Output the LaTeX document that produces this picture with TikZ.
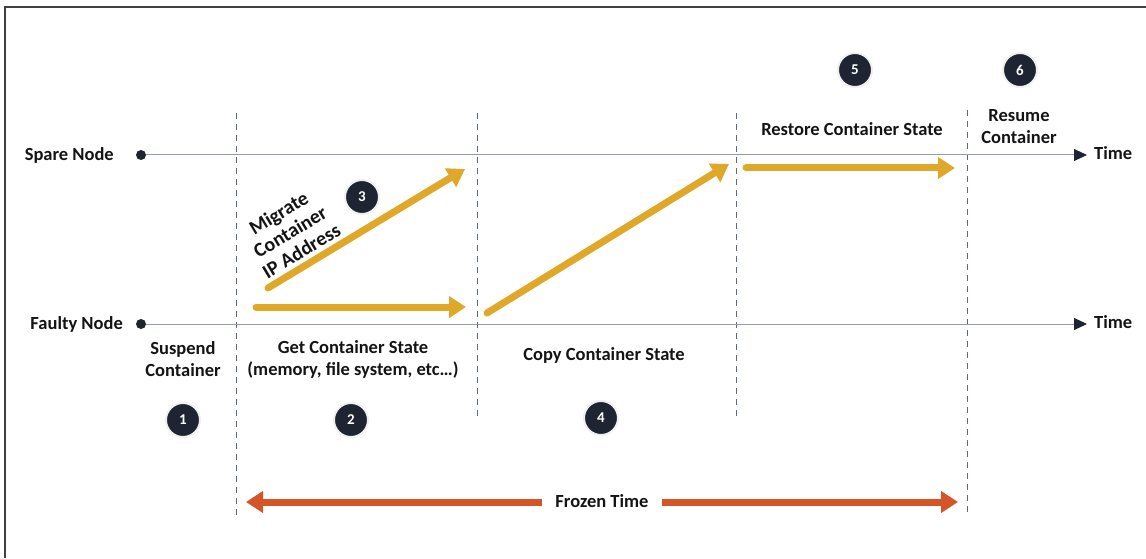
\documentclass[tikz,border=0pt]{standalone}
\usepackage{fontspec}
\setmainfont{Carlito}
\usetikzlibrary{arrows.meta}
\definecolor{gold}{RGB}{224,168,40}
\definecolor{rust}{RGB}{212,86,40}
\definecolor{navy}{RGB}{30,36,50}
\definecolor{axisc}{RGB}{150,155,175}
\definecolor{dashc}{RGB}{95,105,125}
\definecolor{txt}{RGB}{20,20,20}
\begin{document}
\begin{tikzpicture}[x=1pt,y=-1pt,
  frame/.style={draw=black!75, line width=1.6pt},
  lbl/.style={font=\bfseries\fontsize{18.5}{22}\selectfont, align=center, text=txt, inner sep=1pt},
  num/.style={circle, fill=navy, draw=black!6, line width=2pt, minimum size=34pt, inner sep=0pt, text=white, font=\bfseries\fontsize{15}{17}\selectfont},
  dot/.style={circle, fill=navy, minimum size=10pt, inner sep=0pt},
  vdash/.style={draw=dashc, line width=1pt, dash pattern=on 6pt off 5pt},
  axisline/.style={draw=axisc, line width=1pt, -{Triangle[length=13pt,width=12pt,color=navy]}},
  goldarrow/.style={draw=gold, line width=7pt, line cap=round, -{Triangle[length=17pt,width=21pt]}},
  rustarrow/.style={draw=rust, line width=7pt, -{Triangle[length=17pt,width=21pt]}}
]
\useasboundingbox (0,0) rectangle (1146,559);
\draw[frame] (5,558) -- (5,7) -- (1150,7);

% vertical dashed lines
\coordinate (v1t) at (236,113); \coordinate (v1b) at (236,516);
\coordinate (v2t) at (477,113); \coordinate (v2b) at (477,417);
\coordinate (v3t) at (736,113); \coordinate (v3b) at (736,417);
\coordinate (v4t) at (967,110); \coordinate (v4b) at (967,516);
\draw[vdash] (v1t) -- (v1b);
\draw[vdash] (v2t) -- (v2b);
\draw[vdash] (v3t) -- (v3b);
\draw[vdash] (v4t) -- (v4b);

% axes
\node[dot] (sd) at (141,155) {};
\node[lbl, anchor=east] (slabel) at (115,155) {Spare Node};
\coordinate (stip) at (1087,155);
\draw[axisline] (sd) -- (stip);
\node[lbl, anchor=west] (stime) at (1093,153) {Time};

\node[dot] (fd) at (141,324) {};
\node[lbl, anchor=east] (flabel) at (124,324) {Faulty Node};
\coordinate (ftip) at (1087,324);
\draw[axisline] (fd) -- (ftip);
\node[lbl, anchor=west] (ftime) at (1093,322) {Time};

% phase labels
\node[lbl] (suspend) at (183,359) {Suspend\\Container};
\node[lbl] (getstate) at (353,359) {Get Container State\\(memory, file system, etc\ldots)};
\node[lbl] (copystate) at (604,355) {Copy Container State};
\node[lbl] (restore) at (852,129) {Restore Container State};
\node[lbl] (resume) at (1019,127) {Resume\\Container};
\node[lbl, font=\bfseries\fontsize{20}{22}\selectfont, rotate=31] (migrate) at (290,232) {Migrate\\Container\\IP Address};

% numbered markers
\node[num] (n1) at (183,420) {1};
\node[num] (n2) at (351,420) {2};
\node[num] (n3) at (362,197) {3};
\node[num] (n4) at (601,418) {4};
\node[num] (n5) at (855,70) {5};
\node[num] (n6) at (1020,70) {6};

% gold arrows
\coordinate (a3s) at (268,288); \coordinate (a3e) at (465,169);
\coordinate (a2s) at (256,307); \coordinate (a2e) at (466,307);
\coordinate (a4s) at (487,313); \coordinate (a4e) at (729,164);
\coordinate (a5s) at (746,168); \coordinate (a5e) at (955,168);
\draw[goldarrow] (a3s) -- (a3e);
\draw[goldarrow] (a2s) -- (a2e);
\draw[goldarrow] (a4s) -- (a4e);
\draw[goldarrow] (a5s) -- (a5e);

% frozen time
\node[lbl, inner xsep=13pt] (frozen) at (602,501) {Frozen Time};
\coordinate (fl) at (246,502); \coordinate (fr) at (958,502);
\draw[rustarrow] (frozen.west |- fl) -- (fl);
\draw[rustarrow] (frozen.east |- fr) -- (fr);
\end{tikzpicture}
\end{document}
